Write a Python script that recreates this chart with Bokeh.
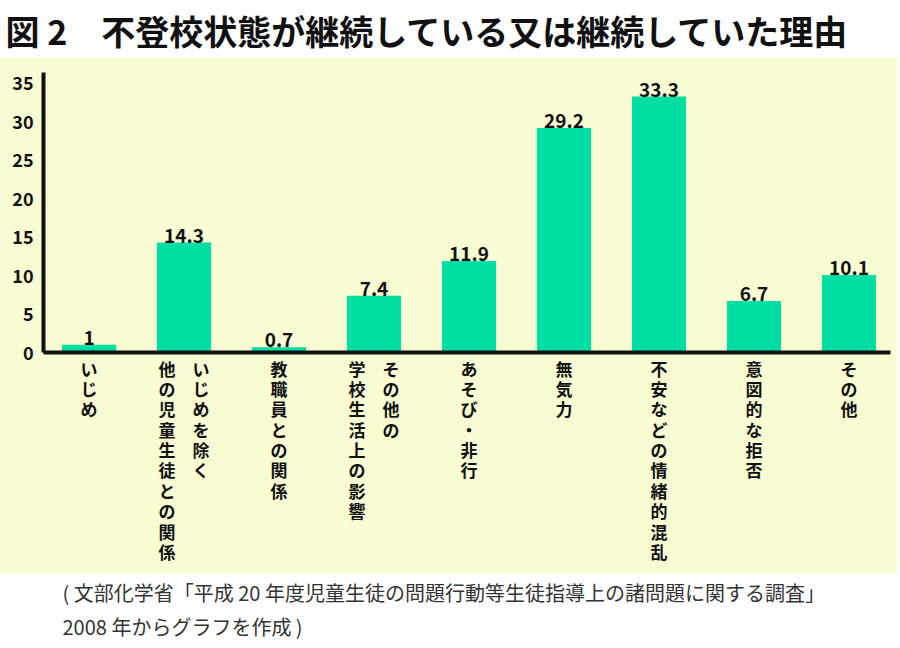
from bokeh.plotting import figure
from bokeh.models import Range1d, LinearAxis, FixedTicker, ColumnDataSource, Title
from bokeh.core.properties import value
from bokeh.embed import file_html
from bokeh.resources import INLINE

# ---- data ----
categories = ["いじめ", "いじめを除く他の児童生徒との関係", "教職員との関係",
              "その他の学校生活上の影響", "あそび・非行", "無気力",
              "不安などの情緒的混乱", "意図的な拒否", "その他"]
label_columns = [["いじめ"], ["いじめを除く", "他の児童生徒との関係"], ["教職員との関係"],
                 ["その他の", "学校生活上の影響"], ["あそび・非行"], ["無気力"],
                 ["不安などの情緒的混乱"], ["意図的な拒否"], ["その他"]]
values = [1.0, 14.3, 0.7, 7.4, 11.9, 29.2, 33.3, 6.7, 10.1]
value_labels = ["1", "14.3", "0.7", "7.4", "11.9", "29.2", "33.3", "6.7", "10.1"]
y_ticks = [0, 5, 10, 15, 20, 25, 30, 35]
title_text = "図 2　不登校状態が継続している又は継続していた理由"
footer_lines = ["( 文部化学省「平成 20 年度児童生徒の問題行動等生徒指導上の諸問題に関する調査」",
                "2008 年からグラフを作成 )"]

FONT_NAME = "Noto Sans CJK JP"
FONT = value(FONT_NAME)
YELLOW = "#F9FBD3"
GREEN = "#00DEA3"
INK = "#111111"

xs = list(range(len(categories)))

p = figure(width=897, height=645, output_backend="svg", toolbar_location=None,
           x_range=Range1d(-0.932, 8.511), y_range=Range1d(-28.75, 38.38),
           x_axis_location=None, y_axis_location=None,
           min_border_left=0, min_border_right=0, min_border_top=57, min_border_bottom=72,
           background_fill_color=YELLOW, border_fill_color="white", outline_line_color=None)
p.grid.grid_line_color = None

p.title.text = title_text
p.title.text_font = FONT_NAME
p.title.text_font_size = "34px"
p.title.text_font_style = "bold"
p.title.text_color = INK
p.title.align = "left"
p.title.offset = 5
p.title.standoff = 6

src = ColumnDataSource(dict(x=xs, top=values, label=value_labels))
p.vbar(x="x", top="top", bottom=0, width=0.57, source=src,
       fill_color=GREEN, line_color=None)
p.text(x="x", y="top", text="label", source=src, text_align="center",
       text_baseline="bottom", text_font=FONT, text_font_style="bold",
       text_font_size="19px", text_color=INK)

# y axis inside the panel
yaxis = LinearAxis(fixed_location=-0.479, ticker=FixedTicker(ticks=y_ticks),
                   bounds=(0, 36.4))
yaxis.axis_line_width = 4
yaxis.axis_line_color = INK
yaxis.major_tick_out = 0
yaxis.major_tick_in = 0
yaxis.minor_tick_out = 0
yaxis.minor_tick_in = 0
yaxis.major_label_standoff = 10
yaxis.major_label_text_font = FONT_NAME
yaxis.major_label_text_font_style = "bold"
yaxis.major_label_text_font_size = "18px"
yaxis.major_label_text_color = INK
p.add_layout(yaxis, "left")

# x axis line (baseline)
xaxis = LinearAxis(fixed_location=0, ticker=FixedTicker(ticks=[]), bounds=(-0.479, 8.437))
xaxis.axis_line_width = 4
xaxis.axis_line_color = INK
xaxis.major_tick_out = 0
xaxis.minor_tick_out = 0
xaxis.major_label_text_font_size = "0px"
p.add_layout(xaxis, "below")

# vertical category labels (columns right-to-left)
lx, lt, lo = [], [], []
for i, cols in enumerate(label_columns):
    n = len(cols)
    for j, col in enumerate(cols):
        lx.append(i)
        lt.append("\n".join(col))
        lo.append(((n - 1) / 2 - j) * 34)
lsrc = ColumnDataSource(dict(x=lx, text=lt, xo=lo, y=[-0.4] * len(lx)))
p.text(x="x", y="y", text="text", x_offset="xo", source=lsrc, text_align="center",
       text_baseline="top", text_font=FONT, text_font_style="bold",
       text_font_size="17px", text_line_height=0.815, text_color=INK)

# footer (source note)
for k, line in enumerate(footer_lines):
    p.add_layout(Title(text=line, align="left", offset=62, standoff=5 if k == 0 else 0,
                       text_font=FONT_NAME, text_font_size="20px",
                       text_font_style="normal", text_color="#333333"), "below")

open("out.html", "w").write(file_html(p, INLINE))
